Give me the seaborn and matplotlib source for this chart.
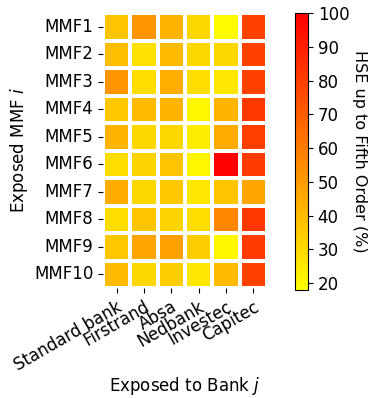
import numpy as np
import pandas as pd
import matplotlib
matplotlib.use("Agg")
import matplotlib.pyplot as plt
import seaborn as sns

banks = ["Standard bank", "Firstrand", "Absa", "Nedbank", "Investec", "Capitec"]
mmfs = ["MMF1", "MMF2", "MMF3", "MMF4", "MMF5", "MMF6", "MMF7", "MMF8", "MMF9", "MMF10"]

standard_bank = [37, 39, 52, 36, 42, 29, 45, 29, 36, 40]
firstrand     = [52, 28, 29, 40, 31, 32, 31, 37, 47, 31]
absa          = [42, 40, 44, 42, 31, 37, 36, 32, 49, 34]
nedbank       = [31, 31, 29, 21, 24, 21, 26, 29, 34, 26]
investec      = [19, 31, 26, 42, 45, 100, 37, 57, 21, 40]
capitec       = [79, 79, 79, 82, 80, 81, 47, 82, 81, 79]

df = pd.DataFrame({
    "Standard bank": standard_bank,
    "Firstrand": firstrand,
    "Absa": absa,
    "Nedbank": nedbank,
    "Investec": investec,
    "Capitec": capitec,
}, index=mmfs)[banks]

W, H = 369, 398
fig = plt.figure(figsize=(W / 100, H / 100), dpi=100)
ax = fig.add_axes([103 / W, 1 - 288 / H, 164 / W, 275 / H])
cax = fig.add_axes([295 / W, 1 - 290 / H, 13 / W, 277 / H])

sns.heatmap(df, ax=ax, cbar_ax=cax, cmap="autumn_r", vmin=18, vmax=100,
            linewidths=1.5, linecolor="white", square=False)

ax.set_xticklabels(banks, rotation=30, ha="right", rotation_mode="anchor", fontsize=12)
ax.set_yticklabels(mmfs, rotation=0, fontsize=12)
ax.set_xlabel("Exposed to Bank $j$", fontsize=12, labelpad=1)
ax.set_ylabel("Exposed MMF $i$", fontsize=12, labelpad=3)

cbar = ax.collections[0].colorbar
cbar.set_ticks([20, 30, 40, 50, 60, 70, 80, 90, 100])
cbar.ax.tick_params(labelsize=12)
cbar.set_label("HSE up to Fifth Order (%)", rotation=270, labelpad=13, fontsize=11.5)
cbar.outline.set_visible(True)
cbar.outline.set_edgecolor("black")
cbar.outline.set_linewidth(0.8)

fig.savefig("out.png", dpi=100)
